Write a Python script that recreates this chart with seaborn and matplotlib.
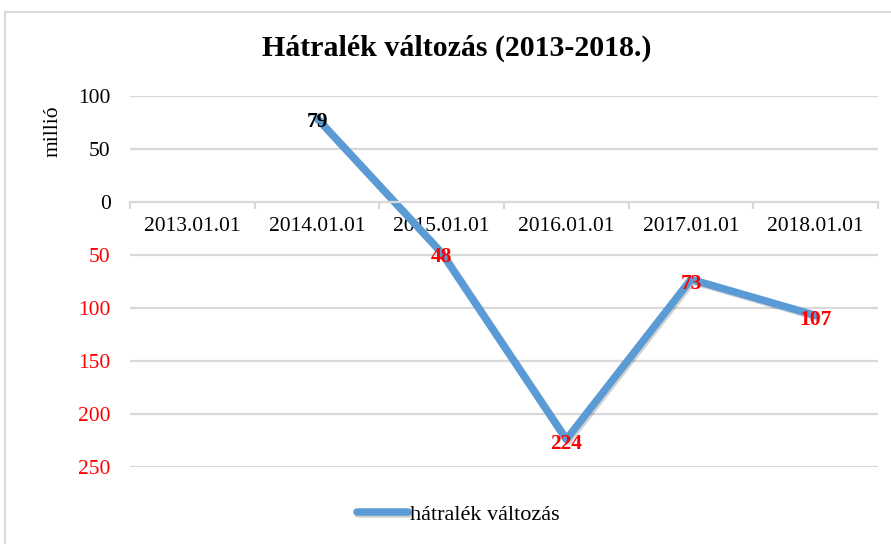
import numpy as np
import pandas as pd
import matplotlib.pyplot as plt
import matplotlib.patheffects as pe
from matplotlib.patches import Rectangle
from matplotlib.ticker import FixedLocator, FuncFormatter
import seaborn as sns

dates = ['2013.01.01', '2014.01.01', '2015.01.01', '2016.01.01', '2017.01.01', '2018.01.01']
values = [np.nan, 79, -48, -224, -73, -107]
series_name = 'hátralék változás'
y_ticks = [100, 50, 0, -50, -100, -150, -200, -250]

sns.set_theme(style='white')
plt.rcParams['font.family'] = ['Liberation Serif', 'DejaVu Serif']
plt.rcParams['text.color'] = 'black'
plt.rcParams['xtick.labelcolor'] = 'black'
plt.rcParams['ytick.labelcolor'] = 'black'

df = pd.DataFrame({'date': dates, 'value': values})
df['pos'] = np.arange(len(df))

fig = plt.figure(figsize=(8.91, 5.44), dpi=100)
ax = fig.add_axes([130 / 891, 1 - 467 / 544, 748 / 891, 371 / 544])

line_color = '#5b9bd5'
grid_color = '#d9d9d9'

sns.lineplot(data=df, x='pos', y='value', ax=ax, color=line_color, linewidth=5.4,
             solid_capstyle='round', solid_joinstyle='round', label=series_name,
             path_effects=[pe.SimpleLineShadow(offset=(1.2, -1.2), shadow_color='#000000', alpha=0.18),
                           pe.Normal()])

ax.set_xlim(-0.5, len(dates) - 0.5)
ax.set_ylim(-250, 100)

# gridlines
ax.yaxis.set_major_locator(FixedLocator(y_ticks))
ax.yaxis.set_major_formatter(FuncFormatter(lambda v, p: f'{abs(v):.0f}'))
for yv in y_ticks:
    if yv != 0:
        ax.axhline(yv, color=grid_color, linewidth=1.6, zorder=0)
ax.tick_params(axis='y', length=0, pad=14, labelsize=15.5)
for lab, yv in zip(ax.get_yticklabels(), y_ticks):
    lab.set_color('red' if yv < 0 else 'black')

for s in ['left', 'right', 'top']:
    ax.spines[s].set_visible(False)
ax.spines['bottom'].set_position(('data', 0))
ax.spines['bottom'].set_color(grid_color)
ax.spines['bottom'].set_linewidth(1.6)

ax.set_xticks(df['pos'])
ax.set_xticklabels(dates)
ax.set_xticks(np.arange(len(dates) + 1) - 0.5, minor=True)
ax.tick_params(axis='x', which='major', length=0, pad=11, labelsize=15.5, labelcolor='black')
ax.tick_params(axis='x', which='minor', length=5, width=1.6, color=grid_color, direction='out', bottom=True)
ax.set_xlabel('')
ax.set_ylabel('')

# data labels (shown without minus sign, negatives in red)
for x, v in zip(df['pos'], df['value']):
    if np.isnan(v):
        continue
    ax.annotate(f'{abs(v):.0f}', (x, v), xytext=(0, -3), textcoords='offset points',
                ha='center', va='center', fontsize=15.5, fontweight='bold',
                color='black' if v >= 0 else 'red', zorder=5)

fig.text(457 / 891, 1 - 48 / 544, 'Hátralék változás (2013-2018.)', ha='center', va='center',
         fontsize=21.5, fontweight='bold', color='black')
fig.text(53 / 891, 1 - 131 / 544, 'millió', rotation=90, ha='center', va='center', fontsize=15.5)

leg = ax.legend(loc='center', bbox_to_anchor=(458 / 891, 1 - 515 / 544), bbox_transform=fig.transFigure,
                frameon=False, fontsize=16, handlelength=2.3, handletextpad=0.1)

fig.patches.append(Rectangle((5 / 891, -0.05), 1.1, 1 - 12 / 544 + 0.05, transform=fig.transFigure,
                             fill=False, edgecolor='#d9d9d9', linewidth=1.5))

fig.savefig('out.png', dpi=100)
